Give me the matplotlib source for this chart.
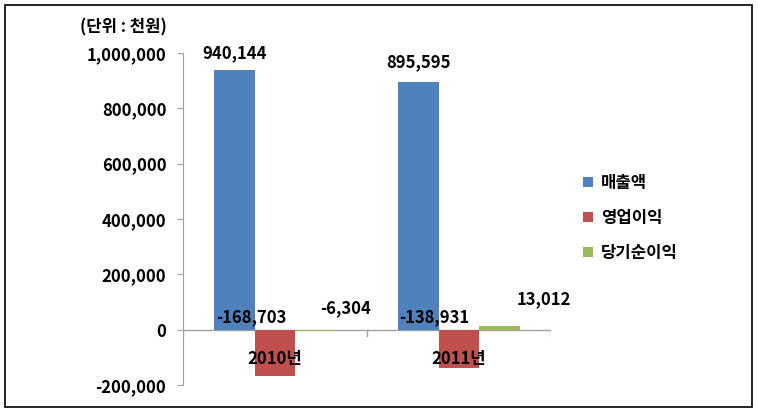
import numpy as np
import matplotlib
matplotlib.use("Agg")
import matplotlib.pyplot as plt
from matplotlib.patches import Rectangle

plt.rcParams["font.family"] = ["Noto Sans CJK KR", "DejaVu Sans"]
plt.rcParams["font.weight"] = "bold"

# --- data ----------------------------------------------------------------
years = ["2010년", "2011년"]
series_names = ["매출액", "영업이익", "당기순이익"]
sales = [940144, 895595]
op_profit = [-168703, -138931]
net_profit = [-6304, 13012]
y_ticks = [-200000, 0, 200000, 400000, 600000, 800000, 1000000]

COLORS = ["#4F81BD", "#C0504D", "#9BBB59"]
BAR_W = 0.22
FS = 12

# label offsets in pixels (dx, dy) from the bar end / zero line
LABEL_OFFSETS = {
    0: [(0, 16), (0, 20)],
    1: [(-24, 12), (-25, 12)],
    2: [(30, 21), (44, 30)],
}

fig = plt.figure(figsize=(7.58, 4.15), dpi=100)
ax = fig.add_axes([183 / 758, 1 - 385 / 415, 368 / 758, 332 / 415])

# outer frame
fig.patches.append(Rectangle((5 / 758, 8 / 415), 747 / 758, 402 / 415,
                             transform=fig.transFigure, fill=False,
                             edgecolor="black", linewidth=1.2))

x = np.arange(len(years))
values = [sales, op_profit, net_profit]
px2pt = 72 / fig.dpi
for i, (name, vals) in enumerate(zip(series_names, values)):
    xs = x + (i - 1) * BAR_W
    ax.bar(xs, vals, width=BAR_W, color=COLORS[i], label=name, zorder=2)
    for j, (xx, v) in enumerate(zip(xs, vals)):
        dx, dy = LABEL_OFFSETS[i][j]
        anchor = v if i == 0 else 0
        ax.annotate(f"{v:,}", xy=(xx, anchor),
                    xytext=(dx * px2pt, dy * px2pt), textcoords="offset points",
                    ha="center", va="center", fontsize=FS, fontweight="bold",
                    zorder=4)

# category labels under the zero line
for xx, lab in zip(x, years):
    ax.annotate(lab, xy=(xx, 0), xytext=(0, -29 * px2pt),
                textcoords="offset points", ha="center", va="center",
                fontsize=FS, fontweight="bold", zorder=4)

ax.axhline(0, color="#A0A0A0", linewidth=1, zorder=1.5)
for b in [-0.5, 0.5, 1.5]:
    ax.plot([b, b], [0, -22000], color="#A0A0A0", linewidth=1, zorder=1.5)

ax.set_xlim(-0.5, 1.5)
ax.set_ylim(-200000, 1000000)
ax.set_yticks(y_ticks)
ax.set_yticklabels([f"{t:,}" for t in y_ticks], fontsize=FS, fontweight="bold")
ax.set_xticks([])
for s in ["top", "right", "bottom"]:
    ax.spines[s].set_visible(False)
ax.spines["left"].set_color("#A0A0A0")
ax.tick_params(axis="y", color="#A0A0A0", length=4, pad=8)

fig.text(123 / 758, 1 - 27 / 415, "(단위 : 천원)", ha="center", va="center",
         fontsize=FS, fontweight="bold")

ax.legend(loc="center left", bbox_to_anchor=(575 / 758, 1 - 218 / 415),
          bbox_transform=fig.transFigure, frameon=False,
          prop={"size": FS, "weight": "bold"},
          handlelength=0.55, handleheight=0.55, handletextpad=0.5,
          labelspacing=1.0, borderpad=0)

fig.savefig("out.png", dpi=100)
